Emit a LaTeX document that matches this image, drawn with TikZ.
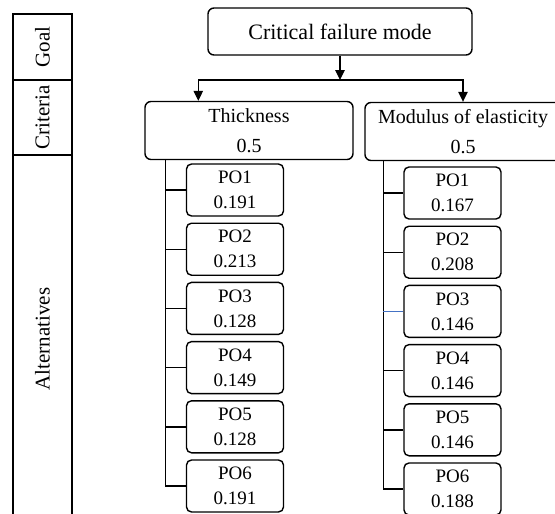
\documentclass[tikz,border=0pt]{standalone}
\usepackage{fontspec}
\setmainfont{Liberation Serif}
\usetikzlibrary{arrows.meta, positioning}
\definecolor{linkblue}{HTML}{4472C4}

\begin{document}
\begin{tikzpicture}[x=1pt, y=-1pt,
  goalbox/.style={rectangle, rounded corners=6pt, minimum width=264pt,
                  minimum height=47pt, draw, line width=1.4pt,
                  font=\fontsize{22}{26}\selectfont},
  critbox/.style={rectangle, rounded corners=6pt, minimum height=58pt,
                  align=center, inner sep=2pt, draw, line width=1.4pt,
                  font=\fontsize{20}{30}\selectfont},
  altbox/.style={rectangle, rounded corners=5pt, minimum width=97pt,
                 minimum height=52pt, align=center, inner sep=1pt,
                 draw, line width=1.4pt, font=\fontsize{19}{25}\selectfont},
  cell/.style={rectangle, rotate=90, minimum height=59pt, inner sep=0pt,
               draw, line width=1.3pt, font=\fontsize{21}{25}\selectfont},
  arr/.style={-{Triangle[length=10pt, width=9.5pt]}, line width=1.1pt},
  link/.style={line width=1.4pt},
  node distance=5.8pt,
]
  \clip (0,0) rectangle (555,514);

  % level column
  \node[cell, minimum width=66pt]  (goal) at (42.5,47)    {Goal};
  \node[cell, minimum width=75pt]  (crit) at (42.5,117.5) {Criteria};
  \node[cell, minimum width=368pt] (alt)  at (42.5,339)   {Alternatives};

  % goal and criteria
  \node[goalbox] (cfm) at (340,31.5) {Critical failure mode};
  \node[critbox, minimum width=208pt] (thick) at (249,130.5) {Thickness\\0.5};
  \node[critbox, minimum width=196pt] (modul) at (463,131.5) {Modulus of elasticity\\0.5};

  % alternatives under thickness
  \node[altbox] (ta1) at (235,190) {PO1\\0.191};
  \node[altbox, below=of ta1] (ta2) {PO2\\0.213};
  \node[altbox, below=of ta2] (ta3) {PO3\\0.128};
  \node[altbox, below=of ta3] (ta4) {PO4\\0.149};
  \node[altbox, below=of ta4] (ta5) {PO5\\0.128};
  \node[altbox, below=of ta5] (ta6) {PO6\\0.191};

  % alternatives under modulus
  \node[altbox] (ma1) at (452.5,193) {PO1\\0.167};
  \node[altbox, below=of ma1] (ma2) {PO2\\0.208};
  \node[altbox, below=of ma2] (ma3) {PO3\\0.146};
  \node[altbox, below=of ma3] (ma4) {PO4\\0.146};
  \node[altbox, below=of ma4] (ma5) {PO5\\0.146};
  \node[altbox, below=of ma5] (ma6) {PO6\\0.188};

  % goal to criteria
  \coordinate (bus) at (340,80);
  \coordinate (tin) at ([xshift=54pt]thick.north west);
  \draw[arr] (cfm.south) -- (bus);
  \draw[arr] (bus) -| (tin);
  \draw[arr] (bus) -| (modul.north);

  % criteria to alternatives
  \coordinate (tsp) at ([xshift=21pt]thick.south west);
  \coordinate (msp) at ([xshift=19pt]modul.south west);
  \draw[link] (tsp) |- (ta6.west);
  \draw[link] (tsp |- ta1.west) -- (ta1.west); \draw[link] (tsp |- ta2.west) -- (ta2.west);
  \draw[link] (tsp |- ta3.west) -- (ta3.west); \draw[link] (tsp |- ta4.west) -- (ta4.west);
  \draw[link] (tsp |- ta5.west) -- (ta5.west);
  \draw[link] (msp) |- (ma6.west);
  \draw[link] (msp |- ma1.west) -- (ma1.west); \draw[link] (msp |- ma2.west) -- (ma2.west);
  \draw[link, linkblue] (msp |- ma3.west) -- (ma3.west); \draw[link] (msp |- ma4.west) -- (ma4.west);
  \draw[link] (msp |- ma5.west) -- (ma5.west);
\end{tikzpicture}
\end{document}
